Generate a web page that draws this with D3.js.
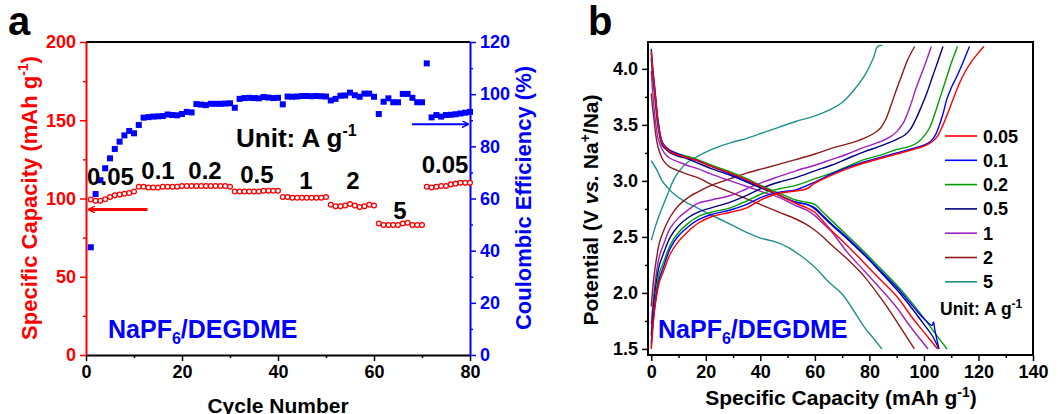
<!DOCTYPE html>
<html>
<head>
<meta charset="utf-8">
<style>
  body { margin: 0; background: #fff; }
  svg text { font-family: "Liberation Sans", Arial, sans-serif; font-weight: bold; }
</style>
</head>
<body>
<script src="https://d3js.org/d3.v7.min.js"></script>
<script>
// ---- panel a data: cycles 1..80 ----
const capacity = [
  99.4, 98.5, 98.5, 99.5, 101, 102, 102.5, 103, 103.5, 104.5,
  107.5, 107.5, 107, 107, 107, 107.5, 107.5, 107.5, 107.5, 108,
  108, 108, 108, 108, 108, 108, 108, 108, 108, 107.5,
  104.5, 104.5, 104.5, 104.5, 104.5, 104.5, 105, 105, 105, 105,
  101, 101, 100.5, 100.5, 100.5, 100.5, 100.5, 100.5, 100.5, 101,
  96, 95, 95, 95.5, 96.5, 95.5, 94.5, 95, 96, 95.5,
  84, 83, 83, 83, 83, 84, 84.5, 83, 83, 83,
  107.5, 107, 107.5, 108, 108, 109, 109.5, 110, 110, 110
]
const efficiency = [
  41.3, 61.7, 67, 71.6, 75.4, 79, 81.8, 84.2, 85.9, 85,
  88.2, 91, 91.2, 91.4, 91.5, 91.6, 92.2, 92, 91.9, 92.4,
  93.2, 93, 96.2, 96, 95.8, 96.3, 96.3, 96.3, 96.4, 96.5,
  94.8, 98.2, 98.5, 98.6, 98.5, 98.4, 98.9, 98.7, 98.5, 98.6,
  96.1, 99.1, 99, 99.1, 99.3, 99.3, 99.2, 99.3, 99.2, 99.1,
  97.6, 98.2, 99.4, 99.5, 100.6, 99.6, 99, 100.2, 100.2, 99,
  92.4, 97.1, 98.4, 96.9, 96.9, 100.1, 100.1, 98.6, 96.9, 96.9,
  111.8, 91.1, 92, 91.4, 92, 92.1, 92.3, 92.6, 92.9, 93.2
]
const rateLabels = ["0.05", "0.1", "0.2", "0.5", "1", "2", "5", "0.05"]
const rateLabelCycle = [5.1, 15, 24.8, 35.6, 45.8, 55.6, 65.4, 74.8]   // label centre, in cycles
const rateLabelY = [185, 179, 179, 183, 189, 189, 219, 173]

// ---- panel b data: [capacity, potential] ----
const rates = ["0.05", "0.1", "0.2", "0.5", "1", "2", "5"]
const rateColors = ["#ff0000", "#0000ff", "#00a000", "#000080", "#a020c0", "#8b1a1a", "#20908c"]

const charge = [
  [[0,1.5],[1,1.8],[2,1.98],[3,2.1],[4.6,2.2],[7,2.35],[10,2.46],[14,2.56],[17,2.62],[22,2.68],[29,2.72],[35,2.76],[41,2.84],[47,2.89],[53,2.91],[57,2.93],[60,2.98],[66,3.05],[72,3.11],[78,3.16],[84,3.2],[90,3.24],[96,3.28],[100,3.31],[103,3.35],[105,3.4],[107,3.5],[109,3.62],[111,3.75],[113,3.87],[115,3.97],[117,4.05],[119.5,4.13],[122,4.2]],
  [[0,1.55],[1,1.82],[2,2.0],[3,2.13],[4.6,2.24],[7,2.4],[10,2.51],[14,2.6],[17,2.65],[22,2.7],[29,2.74],[35,2.79],[41,2.86],[47,2.9],[53,2.92],[60,2.99],[66,3.06],[72,3.12],[78,3.17],[84,3.21],[90,3.25],[96,3.29],[100,3.32],[102.3,3.35],[104,3.4],[105.4,3.48],[107,3.6],[108.4,3.73],[110,3.83],[112,3.93],[114,4.04],[116.7,4.2]],
  [[0,1.52],[1,1.85],[2,2.05],[3,2.18],[4.6,2.28],[7,2.43],[10,2.54],[14,2.63],[17,2.68],[22,2.72],[29,2.76],[35,2.82],[41,2.89],[47,2.93],[53,2.96],[60,3.02],[66,3.07],[72,3.13],[78,3.19],[84,3.23],[90,3.28],[95,3.31],[98,3.35],[100,3.4],[102,3.47],[104,3.6],[106,3.75],[108.4,3.93],[110,4.05],[112.3,4.2]],
  [[0,1.62],[1,1.92],[2,2.12],[3,2.25],[4.6,2.36],[7,2.5],[10,2.6],[14,2.68],[17,2.72],[22,2.76],[29,2.81],[35,2.87],[41,2.94],[47,2.99],[53,3.03],[60,3.09],[66,3.14],[72,3.2],[78,3.26],[84,3.31],[90,3.37],[93,3.41],[95,3.46],[97,3.55],[99,3.66],[101,3.78],[103,3.92],[105,4.06],[107,4.2]],
  [[0,1.72],[1,2.0],[2,2.2],[3,2.33],[4.6,2.44],[7,2.58],[10,2.67],[14,2.75],[17,2.8],[22,2.83],[29,2.87],[35,2.93],[41,2.99],[47,3.04],[53,3.09],[60,3.14],[66,3.19],[72,3.24],[78,3.3],[84,3.35],[88,3.4],[90,3.44],[92.5,3.52],[95,3.67],[97,3.82],[99,3.95],[101,4.08],[102.7,4.2]],
  [[0,1.88],[1,2.15],[2,2.32],[3,2.45],[4.6,2.56],[7,2.68],[10,2.78],[14,2.86],[17,2.9],[22,2.96],[29,3.02],[35,3.07],[41,3.11],[47,3.15],[53,3.19],[60,3.24],[66,3.29],[72,3.33],[78,3.38],[82,3.43],[84,3.47],[86,3.55],[88,3.68],[90,3.82],[92,3.95],[94,4.08],[96.6,4.2]],
  [[0,2.47],[2,2.63],[4,2.76],[6,2.88],[8,3.0],[10,3.08],[13,3.16],[17,3.22],[22,3.28],[29,3.34],[35,3.38],[41,3.43],[47,3.48],[53,3.53],[60,3.58],[66,3.64],[70,3.7],[74,3.8],[78,3.93],[81.5,4.1],[83,4.2],[84.8,4.21]]
]
const discharge = [
  [[0,4.16],[0.5,4.0],[1,3.88],[1.6,3.73],[2.5,3.52],[4,3.34],[5.5,3.29],[7,3.26],[10,3.23],[13,3.21],[17,3.18],[22,3.13],[29,3.07],[35,3.01],[41,2.94],[47,2.87],[53,2.8],[57,2.76],[60,2.72],[63,2.64],[66,2.56],[72,2.42],[78,2.27],[84,2.12],[90,1.97],[96,1.77],[100,1.65],[105,1.5]],
  [[0,4.18],[0.5,4.02],[1,3.9],[1.6,3.75],[2.5,3.54],[4,3.35],[5.5,3.3],[7,3.27],[10,3.24],[13,3.21],[17,3.18],[22,3.13],[29,3.06],[35,3.0],[41,2.94],[47,2.87],[53,2.81],[57,2.79],[60,2.76],[63,2.69],[66,2.62],[72,2.49],[78,2.35],[84,2.2],[90,2.05],[96,1.88],[100,1.77],[103,1.71],[103.5,1.74],[104,1.67],[105.5,1.5]],
  [[0,4.14],[0.5,3.98],[1,3.87],[1.6,3.72],[2.5,3.52],[4,3.34],[5.5,3.29],[7,3.27],[10,3.24],[13,3.22],[17,3.19],[22,3.14],[29,3.08],[35,3.02],[41,2.95],[47,2.89],[53,2.83],[57,2.81],[60,2.79],[63,2.72],[66,2.65],[72,2.51],[78,2.37],[84,2.22],[90,2.07],[96,1.9],[102,1.71],[105,1.61],[108.5,1.5]],
  [[0,4.1],[0.5,3.95],[1,3.83],[1.6,3.68],[2.5,3.48],[4,3.32],[5.5,3.28],[7,3.25],[10,3.22],[13,3.2],[17,3.16],[22,3.11],[29,3.05],[35,2.99],[41,2.93],[47,2.87],[53,2.81],[57,2.79],[60,2.75],[63,2.68],[66,2.61],[72,2.48],[78,2.34],[84,2.19],[90,2.03],[96,1.85],[100,1.72],[103,1.62],[105.5,1.5]],
  [[0,3.98],[0.5,3.8],[1,3.66],[1.6,3.52],[2.5,3.38],[4,3.28],[5.5,3.23],[7,3.2],[10,3.17],[13,3.14],[17,3.11],[22,3.06],[29,3.0],[35,2.95],[41,2.9],[47,2.85],[53,2.78],[57,2.74],[60,2.69],[63,2.62],[66,2.55],[72,2.36],[78,2.2],[84,2.04],[90,1.87],[95,1.7],[101.5,1.5]],
  [[0,3.78],[0.5,3.65],[1,3.55],[1.6,3.42],[2.5,3.3],[4,3.2],[5.5,3.15],[7,3.12],[10,3.09],[13,3.06],[17,3.03],[22,2.97],[29,2.9],[35,2.84],[41,2.78],[47,2.72],[53,2.66],[57,2.61],[60,2.56],[63,2.5],[66,2.43],[72,2.3],[78,2.15],[84,1.96],[88,1.82],[92,1.67],[96.5,1.5]],
  [[0,3.18],[2,3.1],[4,3.0],[6,2.94],[8,2.89],[12,2.82],[16,2.77],[20,2.72],[25,2.66],[30,2.6],[35,2.54],[40,2.49],[45,2.46],[50,2.41],[55,2.33],[60,2.23],[65,2.1],[70,1.99],[74,1.85],[78,1.7],[82,1.58],[84.6,1.5]]
]

const W = 1058, H = 414
const svg = d3.select("body").append("svg").attr("width", W).attr("height", H)
svg.append("rect").attr("width", W).attr("height", H).attr("fill", "#fff")

const red = "#ff0000", blue = "#0000ff"

// ================= panel a =================
const ax = d3.scaleLinear().domain([0, 80]).range([86, 470])
const ayL = d3.scaleLinear().domain([0, 200]).range([355, 42])
const ayR = d3.scaleLinear().domain([0, 120]).range([355, 42])

const ga = svg.append("g")

function styleAxis(g, color, size) {
  g.selectAll("path").attr("stroke", color).attr("stroke-width", 2)
  g.selectAll("line").attr("stroke", color).attr("stroke-width", 1.5)
  g.selectAll("text").attr("fill", color).attr("font-size", size).attr("font-family", "Liberation Sans, Arial, sans-serif").attr("font-weight", "bold")
}
function minorTicks(g, axisFn, scale, vals, transform, color) {
  const m = g.append("g").attr("transform", transform)
    .call(axisFn(scale).tickValues(vals).tickSize(3).tickFormat(""))
  m.select("path").remove()
  m.selectAll("line").attr("stroke", color).attr("stroke-width", 1.5)
}

// top line
ga.append("line").attr("x1", 86).attr("x2", 470).attr("y1", 42).attr("y2", 42).attr("stroke", "#000").attr("stroke-width", 2)

const axB = ga.append("g").attr("transform", "translate(0,355)")
  .call(d3.axisBottom(ax).tickValues([0, 20, 40, 60, 80]).tickSize(6).tickSizeOuter(0).tickPadding(4))
styleAxis(axB, "#000", 18)
minorTicks(ga, d3.axisBottom, ax, [10, 30, 50, 70], "translate(0,355)", "#000")

const axL = ga.append("g").attr("transform", "translate(86,0)")
  .call(d3.axisLeft(ayL).tickValues([0, 50, 100, 150, 200]).tickSize(6).tickSizeOuter(0).tickPadding(4))
styleAxis(axL, red, 18)
minorTicks(ga, d3.axisLeft, ayL, [25, 75, 125, 175], "translate(86,0)", red)

const axR = ga.append("g").attr("transform", "translate(470,0)")
  .call(d3.axisRight(ayR).tickValues([0, 20, 40, 60, 80, 100, 120]).tickSize(6).tickSizeOuter(0).tickPadding(4))
styleAxis(axR, blue, 18)
minorTicks(ga, d3.axisRight, ayR, [10, 30, 50, 70, 90, 110], "translate(470,0)", blue)

// efficiency squares
ga.append("g").selectAll("rect").data(efficiency).join("rect")
  .attr("x", (d, i) => ax(i + 1) - 3).attr("y", d => ayR(d) - 3)
  .attr("width", 6).attr("height", 6).attr("fill", blue)

// capacity circles
ga.append("g").selectAll("circle").data(capacity).join("circle")
  .attr("cx", (d, i) => ax(i + 1)).attr("cy", d => ayL(d))
  .attr("r", 2.4).attr("fill", "#fff").attr("stroke", red).attr("stroke-width", 1.3)

// arrows
const defs = svg.append("defs")
function marker(id, color) {
  defs.append("marker").attr("id", id).attr("viewBox", "0 0 10 10").attr("refX", 9).attr("refY", 5)
    .attr("markerWidth", 7).attr("markerHeight", 7).attr("markerUnits", "userSpaceOnUse")
    .attr("orient", "auto")
    .append("path").attr("d", "M0,0 L10,5 L0,10").attr("fill", "none").attr("stroke", color).attr("stroke-width", 2)
}
marker("arrRed", red)
marker("arrBlue", blue)
ga.append("line").attr("x1", ax(12.8)).attr("x2", ax(0.6)).attr("y1", ayL(93)).attr("y2", ayL(93))
  .attr("stroke", red).attr("stroke-width", 3).attr("marker-end", "url(#arrRed)")
ga.append("line").attr("x1", ax(67.9)).attr("x2", ax(79.6)).attr("y1", ayR(88.5)).attr("y2", ayR(88.5))
  .attr("stroke", blue).attr("stroke-width", 2).attr("marker-end", "url(#arrBlue)")

// rate labels
ga.append("g").selectAll("text").data(rateLabels).join("text")
  .attr("x", (d, i) => ax(rateLabelCycle[i]))
  .attr("y", (d, i) => rateLabelY[i])
  .attr("text-anchor", "middle")
  .attr("font-size", 24).attr("fill", "#000")
  .text(d => d)

// Unit label
const ua = ga.append("text").attr("x", 236).attr("y", 147).attr("font-size", 26).attr("fill", "#000")
ua.append("tspan").text("Unit: A g")
ua.append("tspan").attr("dy", -11).attr("font-size", 16).text("-1")

// NaPF6 label
function napf(g, x, y) {
  const t = g.append("text").attr("x", x).attr("y", y).attr("font-size", 25).attr("fill", blue)
  t.append("tspan").text("NaPF")
  t.append("tspan").attr("dy", 6).attr("font-size", 16).text("6")
  t.append("tspan").attr("dy", -6).text("/DEGDME")
}
napf(ga, 108, 338)

// axis titles
const tL = ga.append("text").attr("transform", "translate(37,198) rotate(-90)").attr("text-anchor", "middle")
  .attr("font-size", 22).attr("fill", red)
tL.append("tspan").text("Specific Capacity (mAh g")
tL.append("tspan").attr("dy", -9).attr("font-size", 14).text("-1")
tL.append("tspan").attr("dy", 9).text(")")

ga.append("text").attr("transform", "translate(531,198) rotate(-90)").attr("text-anchor", "middle")
  .attr("font-size", 22).attr("fill", blue).text("Coulombic Efficiency (%)")

ga.append("text").attr("x", 278).attr("y", 413).attr("text-anchor", "middle")
  .attr("font-size", 21).attr("fill", "#000").text("Cycle Number")

svg.append("text").attr("x", 8).attr("y", 35).attr("font-size", 40).attr("fill", "#000").text("a")

// ================= panel b =================
const bx = d3.scaleLinear().domain([-1.2, 140]).range([648, 1033])
const by = d3.scaleLinear().domain([1.446, 4.24]).range([355, 42])
const gb = svg.append("g")

gb.append("rect").attr("x", 648).attr("y", 42).attr("width", 1033 - 648).attr("height", 313)
  .attr("fill", "none").attr("stroke", "#000").attr("stroke-width", 2)

const bB = gb.append("g").attr("transform", "translate(0,355)")
  .call(d3.axisBottom(bx).tickValues([0, 20, 40, 60, 80, 100, 120, 140]).tickSize(6).tickSizeOuter(0).tickPadding(4))
bB.select("path").remove()
styleAxis(bB, "#000", 18)
minorTicks(gb, d3.axisBottom, bx, [10, 30, 50, 70, 90, 110, 130], "translate(0,355)", "#000")

const bL = gb.append("g").attr("transform", "translate(648,0)")
  .call(d3.axisLeft(by).tickValues([1.5, 2.0, 2.5, 3.0, 3.5, 4.0]).tickFormat(d3.format(".1f")).tickSize(6).tickSizeOuter(0).tickPadding(4))
bL.select("path").remove()
styleAxis(bL, "#000", 18)
minorTicks(gb, d3.axisLeft, by, [1.75, 2.25, 2.75, 3.25, 3.75], "translate(648,0)", "#000")

const lineY = d3.line().x(d => bx(d[0])).y(d => by(d[1])).curve(d3.curveCatmullRom)

// draw in reverse so red is on top
for (let i = rates.length - 1; i >= 0; i--) {
  gb.append("path").attr("d", lineY(charge[i])).attr("fill", "none").attr("stroke", rateColors[i]).attr("stroke-width", 1.4)
  gb.append("path").attr("d", lineY(discharge[i])).attr("fill", "none").attr("stroke", rateColors[i]).attr("stroke-width", 1.4)
}

// legend
const leg = gb.append("g")
rates.forEach((r, i) => {
  const y = 136 + i * 24.3
  leg.append("line").attr("x1", 945).attr("x2", 977).attr("y1", y).attr("y2", y)
    .attr("stroke", rateColors[i]).attr("stroke-width", 1.6)
  leg.append("text").attr("x", 983).attr("y", y + 6.5).attr("font-size", 18).attr("fill", "#000").text(r)
})
const ub = gb.append("text").attr("x", 940).attr("y", 315).attr("font-size", 17.5).attr("fill", "#000")
ub.append("tspan").text("Unit: A g")
ub.append("tspan").attr("dy", -7).attr("font-size", 12).text("-1")

napf(gb, 658, 338)

const tB = gb.append("text").attr("x", 841).attr("y", 405).attr("text-anchor", "middle")
  .attr("font-size", 21).attr("fill", "#000")
tB.append("tspan").text("Specific Capacity (mAh g")
tB.append("tspan").attr("dy", -8).attr("font-size", 14).text("-1")
tB.append("tspan").attr("dy", 8).text(")")

const tP = gb.append("text").attr("transform", "translate(598,210) rotate(-90)").attr("text-anchor", "middle")
  .attr("font-size", 21).attr("fill", "#000")
tP.append("tspan").text("Potential (V ")
tP.append("tspan").attr("font-style", "italic").text("vs.")
tP.append("tspan").text(" Na")
tP.append("tspan").attr("dy", -8).attr("font-size", 14).text("+")
tP.append("tspan").attr("dy", 8).text("/Na)")

svg.append("text").attr("x", 588).attr("y", 35).attr("font-size", 40).attr("fill", "#000").text("b")
</script>
</body>
</html>
